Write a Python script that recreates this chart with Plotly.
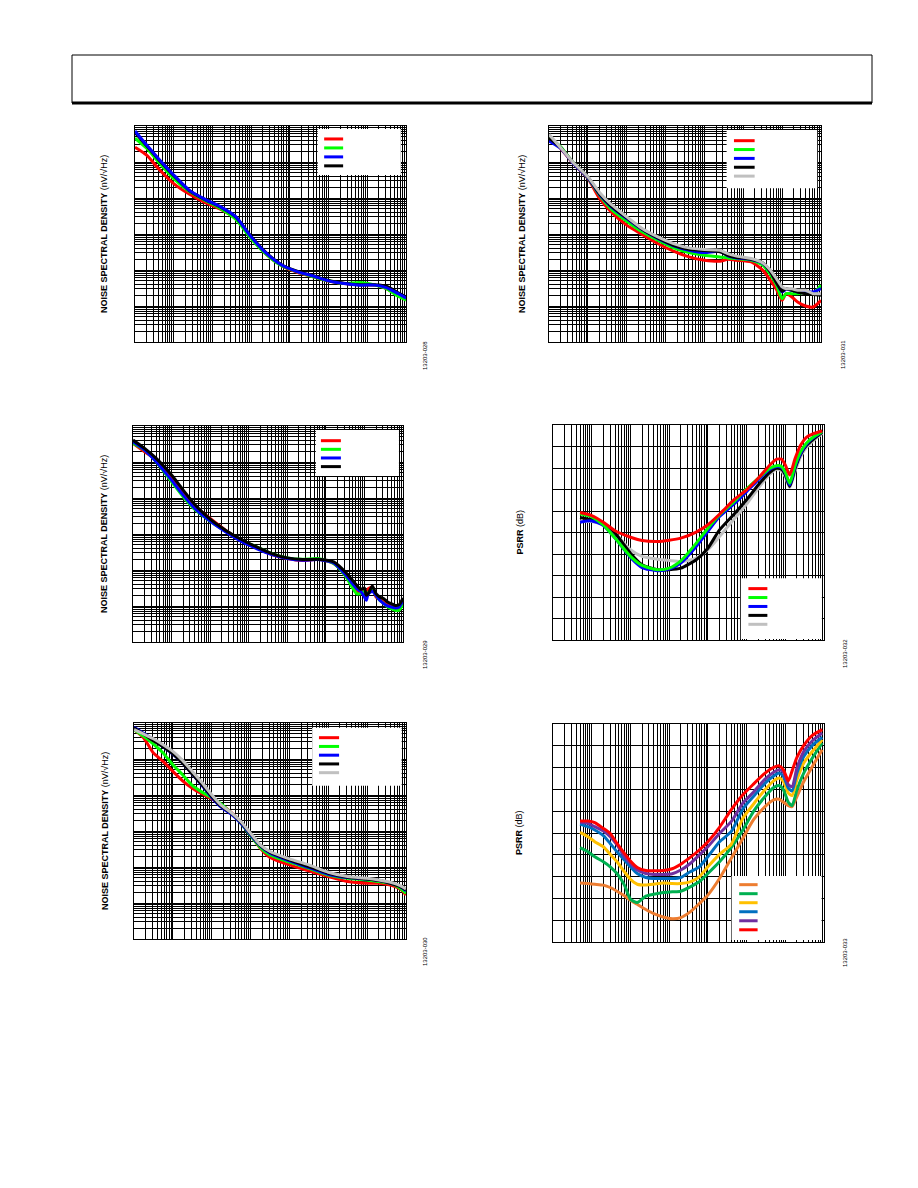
import plotly.graph_objects as go

W, H = 918, 1188

# ---------------- data ----------------
# Panel 1: noise spectral density (nV/rtHz) vs frequency (Hz)
n1_freq = [1, 2, 4, 10, 25, 63, 160, 400, 1000, 2500, 6300, 16000, 40000, 100000,
           250000, 630000, 1600000, 3200000, 6300000, 10000000]
n1_red = [257000, 155000, 66100, 25100, 12900, 7590, 4900, 2690, 776, 269, 129, 85, 65, 49,
          42, 40, 38, 30, 20, 15.5]
n1_green = [457000, 240000, 102000, 34700, 15500, 8710, 5130, 2570, 741, 269, 129, 89, 65, 50,
            42, 45, 38, 30, 18.6, 14.5]
n1_blue = [724000, 295000, 126000, 43700, 16600, 9330, 5750, 3020, 832, 288, 135, 89, 68, 50,
           42, 38, 38, 32, 22, 16.6]
n1_black = [661000, 282000, 120000, 41700, 16200, 9120, 5620, 2950, 851, 295, 138, 91, 69, 51,
            43, 39, 39, 35, 23.4, 17.8]

# Panel 2
n2_freq = [1, 2, 4, 10, 20, 40, 100, 250, 630, 1600, 4000, 10000, 25000, 40000, 63000,
           160000, 320000, 500000, 710000, 1000000, 1260000, 1780000, 2500000, 4000000,
           6300000, 10000000]
n2_red = [505000, 239000, 97500, 35000, 9700, 4130, 1760, 966, 543, 332, 231, 187, 175, 199, 187,
          168, 98, 51.8, 29.1, 14.4, 22.0, 17.8, 12.9, 10.0, 9.4, 14.4]
n2_green = [473000, 266000, 102000, 36500, 12000, 4900, 2270, 1150, 671, 411, 305, 257, 231, 217, 208,
            187, 136, 74.5, 39.3, 16.0, 22.0, 22.0, 22.0, 24.5, 22.0, 37.6]
n2_blue = [382000, 239000, 97500, 36500, 12500, 5690, 2690, 1330, 748, 468, 354, 305, 332, 247, 217,
           195, 151, 88.3, 46.6, 24.5, 29.1, 27.3, 24.5, 25.6, 24.5, 30.3]
n2_black = [473000, 249000, 102000, 38100, 13100, 5940, 2810, 1360, 780, 488, 378, 347, 318, 257, 226,
            199, 157, 88.3, 44.6, 25.6, 30.3, 27.3, 24.5, 22.0, 20.7, 19.8]
n2_gray = [586000, 249000, 102000, 38900, 14300, 6610, 3000, 1420, 832, 543, 411, 370, 354, 286, 247,
           208, 157, 98, 58, 33.8, 30.3, 30.3, 27.3, 27.3, 22.0, 22.0]

# Panel 3
n3_freq = [1, 2, 4, 10, 20, 40, 100, 250, 630, 1600, 4000, 10000, 25000, 63000, 160000, 320000,
           450000, 630000, 800000, 1000000, 1120000, 1260000, 1600000, 2000000, 2500000, 3200000,
           4000000, 5000000, 6300000, 8000000, 10000000]
n3_red = [330000, 193000, 113000, 38900, 13400, 6070, 2690, 1280, 671, 411, 268, 208, 183, 199, 151,
          71.3, 41.9, 24.5, 22.0, 27.3, 24.5, 30.3, 33.8, 17.8, 15.3, 14.4, 11.6, 10.4, 9.4, 10.0, 13.5]
n3_green = [330000, 215000, 102000, 28200, 10800, 4800, 2270, 1200, 671, 439, 286, 217, 199, 208, 151,
            68.4, 37.6, 22.0, 22.0, 25.6, 22.0, 23.5, 27.3, 19.8, 14.4, 11.6, 9.4, 8.4, 7.6, 7.6, 11.6]
n3_blue = [366000, 215000, 102000, 31400, 12000, 5120, 2270, 1150, 631, 394, 268, 208, 187, 195, 157,
           74.5, 46.6, 30.3, 25.6, 17.8, 14.4, 22.0, 25.6, 19.8, 14.4, 11.6, 10.0, 9.4, 8.8, 9.4, 14.4]
n3_black = [407000, 239000, 126000, 43300, 16600, 6610, 2580, 1280, 716, 439, 286, 217, 195, 199, 168,
            88.3, 57.7, 37.6, 29.1, 31.7, 19.8, 22.0, 36.0, 22.0, 17.8, 16.0, 12.9, 11.6, 10.4, 10.9, 16.7]

# Panel 5
n5_freq = [1, 1.78, 3.16, 5.62, 10, 17.8, 31.6, 56.2, 100, 178, 316, 562, 1000, 1780, 3160, 10000,
           31600, 100000, 316000, 1000000, 2000000, 4000000, 7100000, 10000000]
n5_red = [653000, 383000, 146000, 85700, 45200, 24800, 15500, 10800, 7830, 5330, 3270, 1760, 780, 332,
          183, 114, 77.8, 54.1, 39.3, 35.3, 35.3, 31.7, 24.5, 16.7]
n5_green = [653000, 426000, 261000, 146000, 69300, 36500, 18400, 12000, 8550, 5570, 3130, 1650, 748,
            347, 217, 136, 92.2, 60.1, 48.6, 43.7, 39.3, 35.3, 25.6, 18.6]
n5_blue = [757000, 516000, 344000, 219000, 137000, 77100, 38100, 18400, 8550, 4500, 2940, 1650, 780,
           385, 241, 148, 96.2, 62.8, 50.7, 46.6, 41.9, 35.3, 28.5, 21.6]
n5_black = [726000, 494000, 322000, 219000, 140000, 77100, 38100, 19200, 9100, 4800, 3130, 1760, 832,
            394, 257, 157, 103, 67.0, 51.8, 46.6, 41.9, 35.3, 28.5, 23.0]
n5_gray = [653000, 494000, 366000, 249000, 163000, 91400, 45200, 22300, 10100, 5120, 3270, 1840, 869,
           411, 269, 168, 114, 71.4, 54.1, 48.6, 43.7, 37.6, 30.4, 24.5]

# Panel 4: PSRR (dB) vs frequency (Hz)
p4_freq = [5, 10, 20, 40, 100, 200, 500, 1000, 2000, 5000, 10000, 20000, 50000, 100000, 200000,
           400000, 600000, 800000, 1000000, 1300000, 1800000, 2500000, 3500000, 5000000, 9000000]
p4_red = [-40.7, -42.1, -45.2, -49.2, -52.2, -53.7, -54.2, -53.6, -52.6, -49.8, -46.4, -41.5, -34.4,
          -30.2, -24.8, -18.6, -15.9, -15.9, -18.6, -23.2, -15.5, -9.3, -5.7, -4.2, -2.8]
p4_green = [-41.3, -42.7, -46.4, -52.6, -61.1, -65.3, -67.3, -66.6, -63.2, -55.0, -48.0, -41.8, -35.3,
            -29.7, -24.8, -20.1, -18.9, -19.3, -22.0, -27.1, -18.6, -12.4, -8.5, -5.9, -3.1]
p4_blue = [-45.2, -44.6, -46.7, -52.6, -61.6, -66.3, -67.8, -67.0, -64.2, -56.5, -49.5, -42.6, -36.4,
           -31.0, -25.5, -20.6, -19.3, -19.8, -22.4, -27.9, -19.3, -13.2, -9.0, -6.2, -3.1]
p4_black = [-43.0, -44.1, -45.7, -50.3, -59.6, -65.0, -67.3, -67.3, -66.6, -62.7, -57.3, -48.8, -41.0,
            -34.8, -27.9, -22.0, -20.1, -20.6, -23.2, -28.6, -20.1, -13.6, -9.6, -7.0, -3.4]
p4_gray = [-44.6, -44.9, -46.4, -50.3, -58.0, -61.1, -62.4, -63.0, -63.5, -61.9, -58.0, -51.9, -43.3,
           -36.8, -29.4, -22.9, -20.6, -21.4, -24.0, -29.1, -21.4, -14.7, -10.5, -7.7, -3.9]

# Panel 6
p6_freq = [5, 8, 12, 20, 30, 45, 70, 100, 150, 250, 400, 700, 1200, 2000, 3500, 6000, 10000, 20000,
           40000, 80000, 150000, 300000, 500000, 700000, 900000, 1200000, 1500000, 2000000, 3000000,
           5000000, 9000000]
p6_orange = [-72.9, -73.2, -73.5, -73.9, -75.0, -76.7, -78.8, -80.8, -82.7, -85.1, -87.0, -88.5, -89.3,
             -88.8, -86.2, -82.4, -78.5, -70.9, -61.7, -52.5, -44.0, -37.9, -34.8, -34.5, -35.9, -37.4,
             -37.9, -33.3, -26.4, -19.5, -11.8]
p6_green = [-56.7, -58.6, -60.9, -63.2, -65.5, -68.6, -73.9, -80.4, -81.9, -79.0, -78.1, -77.3, -77.0,
            -76.7, -74.7, -72.4, -68.6, -63.2, -56.7, -48.6, -40.2, -33.3, -29.1, -28.2, -30.2, -35.9,
            -37.4, -30.2, -22.5, -15.6, -8.7]
p6_yellow = [-49.7, -51.7, -54.0, -56.3, -59.8, -63.2, -67.8, -71.2, -73.5, -73.9, -73.5, -72.9, -73.2,
             -73.2, -72.4, -70.1, -65.5, -59.8, -55.2, -43.3, -36.8, -30.2, -26.1, -24.8, -26.4, -31.7,
             -32.8, -25.6, -17.9, -12.6, -7.2]
p6_blue = [-45.9, -47.1, -48.6, -51.2, -54.8, -58.6, -62.4, -65.5, -68.6, -70.4, -70.9, -70.9, -70.9,
           -70.4, -67.8, -65.5, -60.9, -54.0, -49.4, -39.0, -33.3, -27.1, -23.8, -22.5, -24.1, -29.4,
           -30.7, -22.5, -14.9, -9.8, -6.1]
p6_purple = [-45.1, -45.6, -47.1, -49.1, -51.7, -55.5, -60.9, -64.0, -67.0, -68.6, -69.0, -69.0, -68.7,
             -67.0, -64.0, -60.1, -56.3, -50.2, -44.8, -36.3, -31.3, -25.3, -22.1, -21.0, -22.2, -27.9,
             -28.7, -20.2, -12.6, -7.7, -4.1]
p6_red = [-44.5, -44.5, -45.2, -47.9, -50.2, -54.8, -59.4, -62.9, -65.8, -67.2, -67.3, -67.2, -66.4,
          -64.3, -61.2, -57.8, -54.0, -47.4, -39.4, -32.5, -27.6, -22.5, -19.9, -19.2, -21.0, -26.1,
          -21.5, -15.3, -9.8, -5.2, -2.6]

noise_title = "<b>NOISE SPECTRAL DENSITY</b> (nV/\u221aHz)"
psrr_title = "<b>PSRR</b> (dB)"
fig_ids = ["13203-028", "13203-031", "13203-029", "13203-032", "13203-030", "13203-033"]

RED, GREEN, BLUE, BLACK, GRAY = "#ff0000", "#00ff00", "#0000ff", "#000000", "#c0c0c0"

panels = [
    dict(kind="noise", freq=n1_freq,
         series=[(n1_red, RED), (n1_green, GREEN), (n1_blue, BLUE), (n1_black, BLACK)],
         draw=[0, 1, 3, 2], px=(135, 406), py=(126, 342), title=noise_title, tx=104, idx=425, idy=356,
         box=(0.674, 0.981, 0.014, 0.227), leg=(0.698, 0.768, 0.060, 0.0415)),
    dict(kind="noise", freq=n2_freq,
         series=[(n2_red, RED), (n2_green, GREEN), (n2_blue, BLUE), (n2_black, BLACK), (n2_gray, GRAY)],
         draw=[0, 1, 2, 3, 4], px=(549, 821), py=(126, 342), title=noise_title, tx=522, idx=843, idy=355,
         box=(0.653, 0.986, 0.0185, 0.288), leg=(0.680, 0.756, 0.068, 0.041)),
    dict(kind="noise", freq=n3_freq,
         series=[(n3_red, RED), (n3_green, GREEN), (n3_blue, BLUE), (n3_black, BLACK)],
         draw=[0, 1, 2, 3], px=(133, 403), py=(426, 642), title=noise_title, tx=104, idx=425, idy=655,
         box=(0.677, 0.985, 0.0185, 0.231), leg=(0.696, 0.770, 0.068, 0.040)),
    dict(kind="psrr", freq=p4_freq,
         series=[(p4_red, RED), (p4_green, GREEN), (p4_blue, BLUE), (p4_black, BLACK), (p4_gray, GRAY)],
         draw=[4, 3, 2, 1, 0], px=(553, 824), py=(425, 640), title=psrr_title, tx=519, idx=845, idy=654,
         box=(0.693, 0.992, 0.713, 0.995), leg=(0.721, 0.791, 0.761, 0.0415)),
    dict(kind="noise", freq=n5_freq,
         series=[(n5_red, RED), (n5_green, GREEN), (n5_blue, BLUE), (n5_black, BLACK), (n5_gray, GRAY)],
         draw=[0, 1, 2, 3, 4], px=(134, 406), py=(723, 939), title=noise_title, tx=105, idx=425, idy=952,
         box=(0.655, 0.984, 0.022, 0.290), leg=(0.680, 0.754, 0.068, 0.0405)),
    dict(kind="psrr", freq=p6_freq,
         series=[(p6_orange, "#ed7d31"), (p6_green, "#00b050"), (p6_yellow, "#ffc000"),
                 (p6_blue, "#0070c0"), (p6_purple, "#7030a0"), (p6_red, "#ff0000")],
         draw=[0, 1, 2, 3, 4, 5], px=(553, 824), py=(724, 942), title=psrr_title, tx=519, idx=845, idy=953,
         box=(0.659, 0.991, 0.697, 0.991), leg=(0.687, 0.755, 0.737, 0.0414)),
]

fig = go.Figure()
layout = dict(width=W, height=H, margin=dict(l=0, r=0, t=0, b=0), paper_bgcolor="white",
              plot_bgcolor="white", showlegend=False, shapes=[], annotations=[],
              font=dict(family="Liberation Sans, Arial, sans-serif", color="black"))

for i, p in enumerate(panels, start=1):
    sfx = "" if i == 1 else str(i)
    xa, ya = "x" + sfx, "y" + sfx
    for k in p["draw"]:
        vals, col = p["series"][k]
        fig.add_trace(go.Scatter(x=p["freq"], y=vals, mode="lines", xaxis=xa, yaxis=ya,
                                 line=dict(color=col, width=3, shape="spline", smoothing=0.6),
                                 hoverinfo="skip"))
    base = dict(showline=True, linecolor="black", linewidth=1, mirror=True, ticks="",
                showticklabels=False, showgrid=True, gridcolor="black", gridwidth=1, zeroline=False)
    xd = dict(base, domain=[p["px"][0] / W, p["px"][1] / W], anchor=ya, type="log", range=[0, 7],
              dtick=1, minor=dict(dtick="D1", showgrid=True, gridcolor="black", gridwidth=1))
    if p["kind"] == "noise":
        yd = dict(base, type="log", range=[0, 6], dtick=1,
                  minor=dict(dtick="D1", showgrid=True, gridcolor="black", gridwidth=1))
    else:
        yd = dict(base, type="linear", range=[-100, 0], dtick=10)
    yd.update(domain=[1 - p["py"][1] / H, 1 - p["py"][0] / H], anchor=xa)
    layout["xaxis" + sfx] = xd
    layout["yaxis" + sfx] = yd

    # legend box (labels are blank in the source)
    bx0, bx1, bt, bb = p["box"]
    layout["shapes"].append(dict(type="rect", xref=xa + " domain", yref=ya + " domain",
                                 x0=bx0, x1=bx1, y0=1 - bb, y1=1 - bt, fillcolor="white",
                                 line=dict(width=0), layer="above"))
    lx0, lx1, ly0, step = p["leg"]
    for j, (vals, col) in enumerate(p["series"]):
        yy = 1 - (ly0 + j * step)
        layout["shapes"].append(dict(type="line", xref=xa + " domain", yref=ya + " domain",
                                     x0=lx0, x1=lx1, y0=yy, y1=yy, line=dict(color=col, width=3),
                                     layer="above"))

    cy = 1 - (p["py"][0] + p["py"][1]) / 2 / H
    layout["annotations"].append(dict(text=p["title"], xref="paper", yref="paper", x=p["tx"] / W, y=cy,
                                      textangle=-90, showarrow=False, xanchor="center", yanchor="middle",
                                      font=dict(size=9, color="black")))
    layout["annotations"].append(dict(text=fig_ids[i - 1], xref="paper", yref="paper", x=p["idx"] / W,
                                      y=1 - p["idy"] / H, textangle=-90, showarrow=False,
                                      xanchor="center", yanchor="middle", font=dict(size=6, color="black")))

# page header box
layout["shapes"].append(dict(type="rect", xref="paper", yref="paper", x0=72 / W, x1=872 / W,
                             y0=1 - 103 / H, y1=1 - 55 / H, line=dict(color="black", width=1)))
layout["shapes"].append(dict(type="line", xref="paper", yref="paper", x0=72 / W, x1=872 / W,
                             y0=1 - 103 / H, y1=1 - 103 / H, line=dict(color="black", width=3)))

fig.update_layout(**layout)
fig.write_html("out.html")
